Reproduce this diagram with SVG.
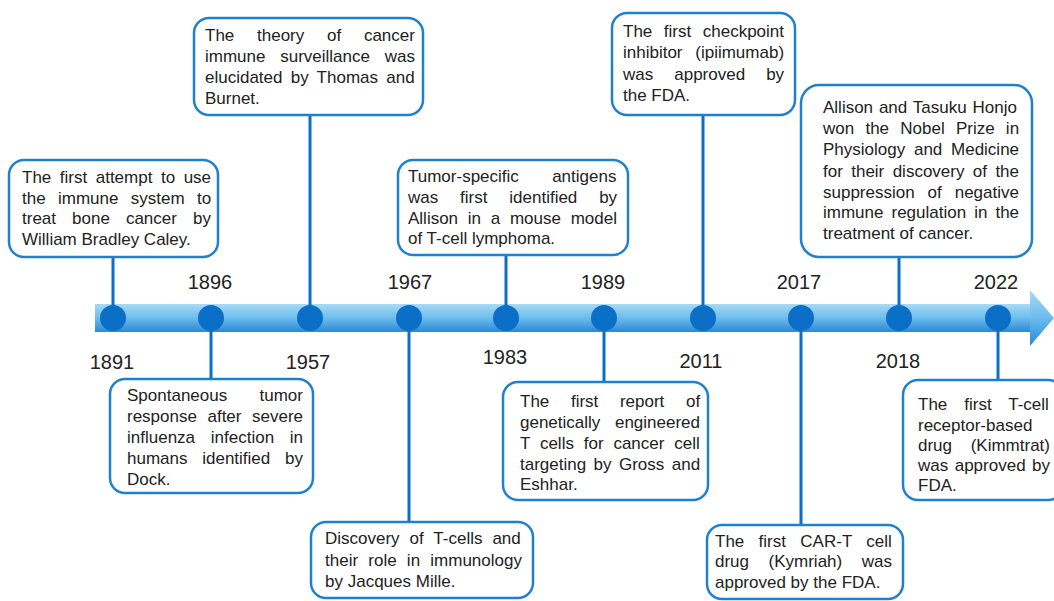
<svg xmlns="http://www.w3.org/2000/svg" width="1054" height="601" viewBox="0 0 1054 601">
<defs>
<linearGradient id="band" x1="0" y1="0" x2="0" y2="1">
<stop offset="0" stop-color="#a8dbf6"/>
<stop offset="0.5" stop-color="#6cbcec"/>
<stop offset="1" stop-color="#2a88d8"/>
</linearGradient>
<style>
.box{fill:#fff;stroke:#1f80d0;stroke-width:2.5}
.t{font-family:"Liberation Sans",Arial,sans-serif;font-size:17px;fill:#222}
.yr{font-family:"Liberation Sans",Arial,sans-serif;font-size:20px;fill:#222;text-anchor:middle}
.dot{fill:#0b6fc8}
.con{stroke:#0b6fc8;stroke-width:3;fill:none}
</style>
</defs>
<rect width="1054" height="601" fill="#fff"/>
<g id="timeline">
<rect x="95" y="304" width="936" height="28" fill="url(#band)"/>
<polygon points="1030,290 1054,318 1030,346" fill="url(#band)"/>
</g>
<g id="connectors">
<line class="con" x1="113" y1="257" x2="113" y2="318"/>
<line class="con" x1="211" y1="318" x2="211" y2="379"/>
<line class="con" x1="310" y1="115" x2="310" y2="318"/>
<line class="con" x1="409" y1="318" x2="409" y2="522"/>
<line class="con" x1="506" y1="255" x2="506" y2="318"/>
<line class="con" x1="604" y1="318" x2="604" y2="382"/>
<line class="con" x1="703" y1="115" x2="703" y2="318"/>
<line class="con" x1="801" y1="318" x2="801" y2="525"/>
<line class="con" x1="899" y1="257" x2="899" y2="318"/>
<line class="con" x1="998" y1="318" x2="998" y2="380"/>
</g>
<g id="dots">
<circle class="dot" cx="113" cy="318" r="13"/>
<circle class="dot" cx="211" cy="318" r="13"/>
<circle class="dot" cx="310" cy="318" r="13"/>
<circle class="dot" cx="409" cy="318" r="13"/>
<circle class="dot" cx="506" cy="318" r="13"/>
<circle class="dot" cx="604" cy="318" r="13"/>
<circle class="dot" cx="703" cy="318" r="13"/>
<circle class="dot" cx="801" cy="318" r="13"/>
<circle class="dot" cx="899" cy="318" r="13"/>
<circle class="dot" cx="998" cy="318" r="13"/>
</g>
<g id="years">
<text class="yr" x="112" y="369">1891</text>
<text class="yr" x="210" y="289">1896</text>
<text class="yr" x="308" y="369">1957</text>
<text class="yr" x="410" y="289">1967</text>
<text class="yr" x="505" y="364">1983</text>
<text class="yr" x="603" y="289">1989</text>
<text class="yr" x="701" y="368">2011</text>
<text class="yr" x="799" y="289">2017</text>
<text class="yr" x="898" y="368">2018</text>
<text class="yr" x="996" y="289">2022</text>
</g>
<g id="e1891">
<rect class="box" x="9" y="160" width="209" height="97" rx="15"/>
<text class="t"><tspan x="22" y="183" word-spacing="3.8">The first attempt to use</tspan><tspan x="22" y="204" word-spacing="7.6">the immune system to</tspan><tspan x="22" y="224" word-spacing="11.3">treat bone cancer by</tspan><tspan x="22" y="245">William Bradley Caley.</tspan></text>
</g>
<g id="e1896">
<rect class="box" x="110" y="379" width="203" height="114" rx="15"/>
<text class="t"><tspan x="127" y="401" word-spacing="27.6">Spontaneous tumor</tspan><tspan x="127" y="422" word-spacing="5.8">response after severe</tspan><tspan x="127" y="443" word-spacing="11">influenza infection in</tspan><tspan x="127" y="464" word-spacing="10">humans identified by</tspan><tspan x="127" y="485">Dock.</tspan></text>
</g>
<g id="e1957">
<rect class="box" x="194" y="18" width="229" height="97" rx="15"/>
<text class="t"><tspan x="205" y="41" word-spacing="18">The theory of cancer</tspan><tspan x="205" y="62" word-spacing="10">immune surveillance was</tspan><tspan x="205" y="83" word-spacing="3.5">elucidated by Thomas and</tspan><tspan x="205" y="104">Burnet.</tspan></text>
</g>
<g id="e1967">
<rect class="box" x="311" y="522" width="222" height="76" rx="15"/>
<text class="t"><tspan x="325" y="544" word-spacing="5.2">Discovery of T-cells and</tspan><tspan x="325" y="566" word-spacing="5.5">their role in immunology</tspan><tspan x="325" y="587">by Jacques Mille.</tspan></text>
</g>
<g id="e1983">
<rect class="box" x="398" y="160" width="230" height="95" rx="15"/>
<text class="t"><tspan x="408" y="182" word-spacing="28.6">Tumor-specific antigens</tspan><tspan x="408" y="203" word-spacing="17.1">was first identified by</tspan><tspan x="408" y="224" word-spacing="5">Allison in a mouse model</tspan><tspan x="408" y="244">of T-cell lymphoma.</tspan></text>
</g>
<g id="e1989">
<rect class="box" x="503" y="382" width="205" height="118" rx="15"/>
<text class="t"><tspan x="520" y="407" word-spacing="16.9">The first report of</tspan><tspan x="520" y="428" word-spacing="9.9">genetically engineered</tspan><tspan x="520" y="449" word-spacing="5.1">T cells for cancer cell</tspan><tspan x="520" y="470" word-spacing="2.7">targeting by Gross and</tspan><tspan x="520" y="490">Eshhar.</tspan></text>
</g>
<g id="e2011">
<rect class="box" x="612" y="13" width="183" height="102" rx="15"/>
<text class="t"><tspan x="623" y="37" word-spacing="6.8">The first checkpoint</tspan><tspan x="623" y="58" word-spacing="8">inhibitor (ipiimumab)</tspan><tspan x="623" y="80" word-spacing="16.3">was approved by</tspan><tspan x="623" y="101">the FDA.</tspan></text>
</g>
<g id="e2017">
<rect class="box" x="707" y="525" width="196" height="74" rx="15"/>
<text class="t"><tspan x="715" y="547" word-spacing="9.6">The first CAR-T cell</tspan><tspan x="715" y="567" word-spacing="14.8">drug (Kymriah) was</tspan><tspan x="715" y="588">approved by the FDA.</tspan></text>
</g>
<g id="e2018">
<rect class="box" x="801" y="85" width="231" height="172" rx="18"/>
<text class="t"><tspan x="823" y="113" word-spacing="1.1">Allison and Tasuku Honjo</tspan><tspan x="823" y="134" word-spacing="6.5">won the Nobel Prize in</tspan><tspan x="823" y="155" word-spacing="4">Physiology and Medicine</tspan><tspan x="823" y="177" word-spacing="3.65">for their discovery of the</tspan><tspan x="823" y="198" word-spacing="8.2">suppression of negative</tspan><tspan x="823" y="218" word-spacing="3.3">immune regulation in the</tspan><tspan x="823" y="239">treatment of cancer.</tspan></text>
</g>
<g id="e2022">
<rect class="box" x="903" y="380" width="160" height="120" rx="15"/>
<text class="t"><tspan x="918" y="410" word-spacing="12.2">The first T-cell</tspan><tspan x="918" y="431">receptor-based</tspan><tspan x="918" y="451" word-spacing="13.9">drug (Kimmtrat)</tspan><tspan x="918" y="471" word-spacing="1.75">was approved by</tspan><tspan x="918" y="491">FDA.</tspan></text>
</g>
</svg>
